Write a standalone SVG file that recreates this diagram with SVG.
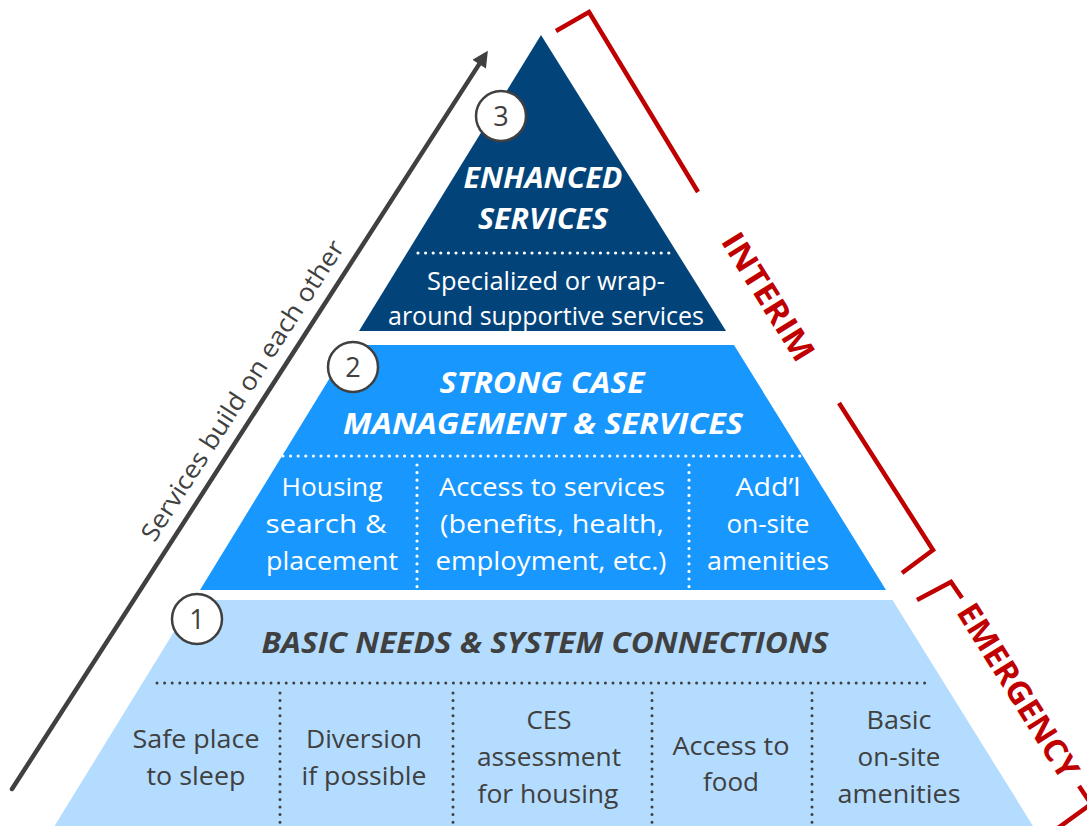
<svg xmlns="http://www.w3.org/2000/svg" width="1087" height="826" viewBox="0 0 1087 826">
  <style>
    .body { font-family: "Open Sans", "Liberation Sans", sans-serif; font-size: 26px; text-anchor: middle; }
    .title { font-family: "Open Sans", "Liberation Sans", sans-serif; font-size: 28px; font-weight: bold; font-style: italic; text-anchor: middle; }
    .light { fill: #ffffff; }
    .dark { fill: #404040; }
    .dots-w { stroke: #ffffff; stroke-width: 3.2; stroke-linecap: round; stroke-dasharray: 0 7.6; fill: none; }
    .dots-d { stroke: #404040; stroke-width: 3; stroke-linecap: round; stroke-dasharray: 0 7.6; fill: none; }
    .badge circle { fill: #ffffff; stroke: #404040; stroke-width: 2.5; }
    .badge text { font-family: "Open Sans", "Liberation Sans", sans-serif; font-size: 27px; fill: #404040; text-anchor: middle; }
    .bracket { fill: none; stroke: #C00000; stroke-width: 4.5; stroke-linejoin: miter; }
    .phase { font-family: "Open Sans", "Liberation Sans", sans-serif; font-size: 32px; font-weight: bold; fill: #C00000; text-anchor: middle; }
  </style>
  <defs>
    <marker id="head" viewBox="0 0 10 10" refX="0" refY="5" markerUnits="userSpaceOnUse" markerWidth="18" markerHeight="16" orient="auto">
      <path d="M0,0 L10,5 L0,10 z" fill="#404040"/>
    </marker>
  </defs>

  <rect width="1087" height="826" fill="#ffffff"/>

  <!-- Tier 3: enhanced services -->
  <g id="tier3">
    <polygon points="541,35 359,331 726,331" fill="#02437A"/>
    <text class="title light" x="543" y="188" textLength="159" lengthAdjust="spacingAndGlyphs">ENHANCED</text>
    <text class="title light" x="543" y="229" textLength="130" lengthAdjust="spacingAndGlyphs">SERVICES</text>
    <line class="dots-w" x1="418" y1="253" x2="674" y2="253"/>
    <text class="body light" x="546" y="290" textLength="238" lengthAdjust="spacingAndGlyphs">Specialized or wrap-</text>
    <text class="body light" x="546" y="325" textLength="316" lengthAdjust="spacingAndGlyphs">around supportive services</text>
  </g>

  <!-- Tier 2: strong case management -->
  <g id="tier2">
    <polygon points="350,345 734,345 886,590 200,590" fill="#1897FF"/>
    <text class="title light" x="542" y="393" textLength="205" lengthAdjust="spacingAndGlyphs">STRONG CASE</text>
    <text class="title light" x="543" y="434" textLength="400" lengthAdjust="spacingAndGlyphs">MANAGEMENT &amp; SERVICES</text>
    <line class="dots-w" x1="283" y1="456" x2="805" y2="456"/>
    <line class="dots-w" x1="417" y1="465" x2="417" y2="590"/>
    <line class="dots-w" x1="689" y1="465" x2="689" y2="590"/>
    <text class="body light" x="332" y="496" textLength="101" lengthAdjust="spacingAndGlyphs">Housing</text>
    <text class="body light" x="326" y="533" textLength="121" lengthAdjust="spacingAndGlyphs">search &amp;</text>
    <text class="body light" x="332" y="570" textLength="132" lengthAdjust="spacingAndGlyphs">placement</text>
    <text class="body light" x="552" y="496" textLength="226" lengthAdjust="spacingAndGlyphs">Access to services</text>
    <text class="body light" x="552" y="533" textLength="224" lengthAdjust="spacingAndGlyphs">(benefits, health,</text>
    <text class="body light" x="551" y="570" textLength="231" lengthAdjust="spacingAndGlyphs">employment, etc.)</text>
    <text class="body light" x="768" y="496" textLength="65" lengthAdjust="spacingAndGlyphs">Add’l</text>
    <text class="body light" x="768" y="533" textLength="83" lengthAdjust="spacingAndGlyphs">on-site</text>
    <text class="body light" x="768" y="570" textLength="122" lengthAdjust="spacingAndGlyphs">amenities</text>
  </g>

  <!-- Tier 1: basic needs -->
  <g id="tier1">
    <polygon points="193.5,600 892.5,600 1033,826 54.5,826" fill="#B3DCFF"/>
    <text class="title dark" x="545" y="653" textLength="567" lengthAdjust="spacingAndGlyphs">BASIC NEEDS &amp; SYSTEM CONNECTIONS</text>
    <line class="dots-d" x1="157" y1="683" x2="929" y2="683"/>
    <line class="dots-d" x1="280" y1="693" x2="280" y2="826"/>
    <line class="dots-d" x1="453" y1="693" x2="453" y2="826"/>
    <line class="dots-d" x1="652" y1="693" x2="652" y2="826"/>
    <line class="dots-d" x1="812" y1="693" x2="812" y2="826"/>
    <text class="body dark" x="196" y="748" textLength="127" lengthAdjust="spacingAndGlyphs">Safe place</text>
    <text class="body dark" x="196" y="785" textLength="99" lengthAdjust="spacingAndGlyphs">to sleep</text>
    <text class="body dark" x="364" y="748" textLength="116" lengthAdjust="spacingAndGlyphs">Diversion</text>
    <text class="body dark" x="364" y="785" textLength="125" lengthAdjust="spacingAndGlyphs">if possible</text>
    <text class="body dark" x="549" y="729" textLength="45" lengthAdjust="spacingAndGlyphs">CES</text>
    <text class="body dark" x="549" y="766" textLength="144" lengthAdjust="spacingAndGlyphs">assessment</text>
    <text class="body dark" x="548" y="803" textLength="141" lengthAdjust="spacingAndGlyphs">for housing</text>
    <text class="body dark" x="731" y="755" textLength="117" lengthAdjust="spacingAndGlyphs">Access to</text>
    <text class="body dark" x="731" y="791" textLength="56" lengthAdjust="spacingAndGlyphs">food</text>
    <text class="body dark" x="899" y="729" textLength="65" lengthAdjust="spacingAndGlyphs">Basic</text>
    <text class="body dark" x="899" y="766" textLength="83" lengthAdjust="spacingAndGlyphs">on-site</text>
    <text class="body dark" x="899" y="803" textLength="123" lengthAdjust="spacingAndGlyphs">amenities</text>
  </g>

  <!-- Numbered badges -->
  <g id="badge3" class="badge">
    <circle cx="501" cy="116" r="25"/>
    <text x="501" y="126">3</text>
  </g>
  <g id="badge2" class="badge">
    <circle cx="353" cy="367" r="25"/>
    <text x="353" y="377">2</text>
  </g>
  <g id="badge1" class="badge">
    <circle cx="197" cy="619" r="25"/>
    <text x="197" y="629">1</text>
  </g>

  <!-- Progression arrow -->
  <g id="connectors">
    <line x1="12" y1="789" x2="479.2" y2="64.1" stroke="#404040" stroke-width="4.5" stroke-linecap="round" marker-end="url(#head)"/>
  </g>
  <g id="arrow-label">
    <text transform="translate(243,391) rotate(-57.2)" x="0" y="8" font-family="Open Sans, Liberation Sans, sans-serif" font-size="25" fill="#404040" text-anchor="middle" textLength="352" lengthAdjust="spacingAndGlyphs">Services build on each other</text>
  </g>

  <!-- Phase brackets -->
  <g id="interim">
    <polyline class="bracket" points="556,31 589,12 698,192"/>
    <polyline class="bracket" points="839,403 933,550 902,573"/>
    <text class="phase" transform="translate(768,297) rotate(58)" x="0" y="11" textLength="145" lengthAdjust="spacingAndGlyphs">INTERIM</text>
  </g>
  <g id="emergency">
    <polyline class="bracket" points="917,600 951,582 962,598"/>
    <polyline class="bracket" points="1079,786 1091,804 1058,828"/>
    <text class="phase" transform="translate(1018,691) rotate(58)" x="0" y="11" textLength="200" lengthAdjust="spacingAndGlyphs">EMERGENCY</text>
  </g>
</svg>
